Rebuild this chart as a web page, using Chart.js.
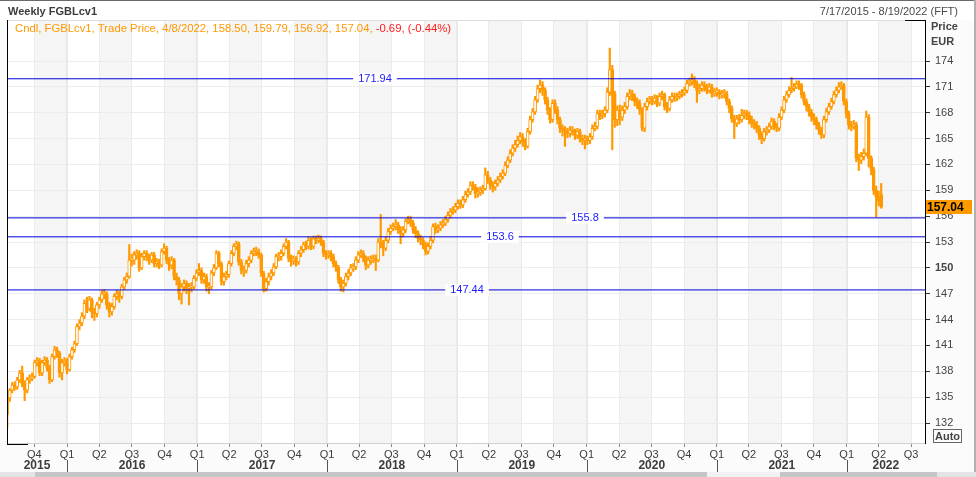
<!DOCTYPE html>
<html>
<head>
<meta charset="utf-8">
<script src="https://cdn.jsdelivr.net/npm/chart.js@4.4.0/dist/chart.umd.min.js"></script>
<style>
html,body{margin:0;padding:0;background:#fff;overflow:hidden}
</style>
</head>
<body>
<canvas id="myChart" width="976" height="477"></canvas>
<script>
// weekly closes, first bar = week of 7/17/2015
const closes = [
134.9,135.8,136.4,136.2,137.0,137.8,136.5,135.8,137.0,137.2,
137.4,139.0,139.2,137.8,139.0,139.3,138.4,137.0,139.7,140.5,
140.1,137.8,139.0,139.2,138.2,139.7,140.5,141.2,143.2,143.6,
144.4,145.9,145.3,146.3,144.9,144.7,145.7,146.3,147.0,147.0,
145.7,144.9,145.5,146.7,147.0,146.7,147.8,148.6,149.0,150.9,
150.9,151.5,151.7,150.0,151.3,151.7,151.3,150.9,151.5,150.5,
150.7,150.3,151.9,152.3,150.9,150.3,150.9,149.0,148.6,147.0,
147.8,148.2,147.6,147.8,147.8,148.8,149.4,149.7,148.6,149.0,
147.8,147.8,149.4,150.0,151.7,150.5,148.4,149.0,149.2,150.5,
151.7,152.5,152.8,150.7,149.7,149.7,150.5,150.9,151.7,151.9,
151.9,151.5,149.4,147.6,148.4,149.0,149.4,150.1,151.3,151.3,
151.7,152.5,153.0,151.1,150.9,150.9,150.7,151.7,152.1,152.7,
152.5,153.2,152.5,153.4,153.2,153.4,153.0,151.7,151.5,151.7,
151.3,150.5,150.1,148.6,147.8,148.2,149.0,149.4,150.0,150.1,
150.9,151.5,151.7,151.1,150.3,150.9,150.9,151.1,150.9,153.0,
152.8,152.3,153.2,154.2,154.6,154.8,155.0,154.4,154.0,154.4,
155.4,155.6,155.2,154.4,154.0,153.4,153.2,152.7,151.9,152.5,
153.2,154.8,154.4,154.6,155.0,155.2,155.6,156.1,156.5,156.7,
157.1,157.5,157.3,157.9,158.5,158.8,159.6,159.4,158.6,158.8,
159.0,159.2,160.8,160.2,159.6,159.4,159.8,160.2,160.6,161.0,
161.9,162.5,163.3,163.9,164.3,164.8,165.2,164.6,164.1,165.8,
167.2,168.1,169.5,170.8,171.2,170.6,169.5,168.3,167.2,169.1,
168.3,167.2,166.2,166.0,165.8,165.6,166.0,165.8,165.4,165.8,
165.0,164.8,165.0,164.8,165.2,166.2,166.4,167.9,167.7,167.9,
168.3,170.4,173.0,170.2,167.2,168.3,167.5,168.3,168.7,169.9,
170.2,169.9,169.3,169.1,168.3,166.2,168.7,169.3,169.5,169.3,
169.7,169.1,169.9,170.1,168.7,168.5,169.5,169.9,169.7,169.9,
170.1,170.3,170.6,171.4,171.6,171.8,171.4,170.6,170.8,171.2,
171.0,170.6,171.0,170.2,170.4,170.4,170.1,170.2,170.2,169.3,
168.5,167.3,166.8,167.3,167.2,167.7,167.9,167.7,167.2,166.8,
166.6,166.2,165.4,165.0,165.8,166.0,166.4,167.0,166.4,166.2,
167.5,168.3,169.5,170.1,170.6,170.8,171.0,171.3,171.2,170.1,
169.3,168.7,168.1,167.5,167.2,166.6,166.0,165.4,167.2,168.1,
168.7,169.3,170.1,170.6,171.0,171.2,169.3,167.9,166.6,166.4,
166.6,162.7,162.5,162.9,163.3,167.5,162.7,161.4,159.0,158.2,
157.73,157.04
];
const highs = [
135.2,136.0,136.7,136.8,137.3,138.1,138.6,136.9,137.3,137.6,
137.8,139.3,139.6,139.5,139.3,139.7,139.6,138.7,140.0,140.9,
140.8,140.3,139.4,139.6,139.5,140.0,140.8,141.5,143.5,144.0,
144.8,146.3,146.6,146.7,146.5,145.3,146.0,146.6,147.4,147.5,
147.2,146.0,145.9,147.0,147.4,147.3,148.1,148.9,149.4,152.7,
151.6,151.9,152.1,152.0,151.7,152.0,152.0,151.6,151.8,151.8,
151.1,151.0,152.2,152.8,152.5,151.2,151.3,151.1,149.4,148.9,
148.2,148.6,148.5,148.2,148.3,149.1,149.8,150.5,150.0,149.4,
149.3,148.3,149.7,150.4,152.0,151.9,150.7,149.4,149.6,150.8,
152.0,152.8,153.1,153.0,151.0,150.2,150.9,151.3,152.0,152.3,
152.4,152.2,151.7,149.6,148.8,149.4,149.8,150.5,151.6,151.8,
152.1,152.8,153.4,153.2,151.5,151.4,151.3,152.0,152.5,153.0,
153.1,153.6,153.5,153.7,153.7,153.8,153.7,153.2,152.0,152.0,
152.0,151.6,150.8,150.3,148.9,148.6,149.4,149.8,150.4,150.5,
151.3,151.9,152.1,152.0,151.4,151.3,151.4,151.5,151.5,153.4,
156.2,153.2,153.6,154.6,155.0,155.2,155.6,155.3,154.8,154.8,
155.7,156.0,156.0,155.5,154.8,154.3,153.8,153.5,153.0,152.9,
153.6,155.1,155.2,155.0,155.4,155.6,156.0,156.5,156.9,157.1,
157.5,157.9,157.9,158.3,158.9,159.2,160.0,160.0,159.7,159.3,
159.4,159.6,161.6,161.2,160.5,160.0,160.2,160.6,161.0,161.4,
162.3,162.9,163.7,164.3,164.8,165.3,165.7,165.6,165.0,166.2,
167.6,168.5,169.9,171.2,171.8,171.6,170.9,169.8,168.6,169.5,
169.5,168.7,167.5,166.6,166.4,166.2,166.4,166.4,166.1,166.2,
166.1,165.4,165.4,165.3,165.6,166.6,166.9,168.3,168.3,168.3,
168.7,170.9,175.5,173.5,170.5,168.8,168.9,168.8,169.2,170.3,
170.7,170.6,170.2,169.7,169.5,168.6,169.1,169.7,169.9,169.9,
170.1,170.0,170.3,170.5,170.3,169.2,169.9,170.3,170.3,170.3,
170.5,170.7,171.0,171.8,172.0,172.5,172.2,171.7,171.3,171.6,
171.6,171.3,171.4,171.3,170.8,170.9,170.7,170.6,170.7,170.5,
169.6,168.8,167.7,167.7,167.8,168.4,168.3,168.3,168.1,167.6,
167.2,167.0,166.5,165.8,166.2,166.4,166.8,167.4,167.3,166.8,
167.9,168.7,169.9,170.5,171.0,172.1,171.4,171.7,171.7,171.4,
170.4,169.6,169.0,168.4,167.9,167.5,166.9,166.3,167.6,168.5,
169.1,169.7,170.5,171.0,171.5,171.6,171.4,169.6,168.2,167.0,
167.1,166.9,163.2,163.4,163.8,168.2,167.8,163.0,161.7,159.5,
158.9,159.79
];
const lows = [
131.4,134.5,135.5,135.8,135.9,136.7,136.2,134.6,135.5,136.6,
136.9,137.2,138.6,137.5,137.5,138.7,138.0,136.6,136.8,139.4,
139.6,137.3,137.0,138.6,137.7,138.0,139.4,140.2,141.0,142.8,
143.3,144.1,144.8,145.0,144.2,143.9,144.3,145.3,146.0,146.4,
145.2,144.3,144.5,145.2,146.3,146.0,146.4,147.5,148.2,148.8,
150.2,150.4,151.0,149.6,149.8,150.9,150.8,150.4,150.6,150.1,
150.1,149.9,150.1,151.6,150.5,149.7,149.9,148.6,148.0,146.3,
145.8,147.3,147.0,145.7,147.2,147.5,148.5,149.1,148.2,148.2,
147.3,147.0,147.5,149.1,149.8,150.1,148.0,148.0,148.6,148.9,
150.2,151.4,152.1,150.3,149.3,149.0,149.4,150.1,150.6,151.4,
151.4,151.1,149.0,147.2,147.3,148.0,148.6,149.1,149.9,150.8,
150.9,151.4,152.2,150.7,150.2,150.4,150.2,150.4,151.3,151.8,
152.1,152.2,152.1,152.2,152.8,152.9,152.6,151.3,151.0,151.1,
150.8,150.1,149.6,148.2,147.3,147.2,147.9,148.6,149.1,149.6,
149.8,150.6,151.2,150.7,149.8,150.0,150.4,150.6,149.7,150.7,
152.3,151.4,152.0,152.9,153.9,154.3,154.4,154.0,152.8,153.6,
154.1,155.1,154.8,154.0,153.5,153.0,152.7,152.2,151.5,151.6,
152.2,152.9,154.0,154.1,154.3,154.7,154.9,155.3,155.8,156.2,
156.4,156.8,156.9,157.0,157.6,158.2,158.5,159.0,158.1,158.2,
158.4,158.6,159.0,159.8,159.1,158.8,159.0,159.5,159.9,160.3,
160.7,161.6,162.2,163.0,163.5,164.0,164.4,164.1,163.7,163.9,
165.5,166.9,167.8,169.2,170.3,170.0,169.0,167.8,166.8,166.9,
167.9,166.7,165.7,165.3,164.1,165.1,165.2,165.4,164.9,165.0,
164.6,164.3,163.8,164.3,164.4,164.9,165.9,166.1,167.2,167.3,
167.5,168.0,170.0,163.7,166.3,166.5,166.6,167.1,167.9,168.4,
169.5,169.4,168.8,168.5,167.8,165.9,165.8,168.3,169.0,168.9,
169.0,168.7,168.8,169.5,168.3,168.0,168.2,169.2,169.3,169.4,
169.6,169.8,170.0,170.3,171.1,171.2,170.9,169.2,170.2,170.5,
170.5,170.2,170.3,169.8,169.9,169.9,169.6,169.7,169.7,168.9,
168.0,166.9,165.0,166.4,166.7,166.9,167.3,167.2,166.7,166.3,
166.1,165.7,164.9,164.4,164.7,165.4,165.7,166.1,166.0,165.8,
165.9,167.2,168.0,169.2,169.8,170.3,170.5,170.8,170.7,169.7,
168.9,168.2,167.6,167.0,166.6,166.1,165.5,165.0,165.1,166.9,
167.8,168.4,169.0,169.8,170.3,170.7,168.9,167.4,166.1,165.9,
166.1,162.3,161.3,162.1,162.5,163.0,161.7,160.8,158.5,155.9,
157.2,156.92
];
const firstOpen = 133.0;
// last bar as printed in the legend: date, open, high, low, close, change, change %
const lastBar = ["4/8/2022", 158.50, 159.79, 156.92, 157.04];
const lastChange = [-0.69, -0.44];

const levels = [171.94, 155.8, 153.6, 147.44];
const levelLabels = ["171.94", "155.8", "153.6", "147.44"];
const yTicks = [132,135,138,141,144,147,150,153,156,159,162,165,168,171,174];
const years = [2015,2016,2017,2018,2019,2020,2021,2022];

const FONT = '"Liberation Sans", Arial, sans-serif';
const orange = "#ff9900";
const lineBlue = "#0000dd";

const startMs = Date.UTC(2015, 6, 17);
function weekOf(y, m, d) { return (Date.UTC(y, m, d || 1) - startMs) / (7 * 864e5); }

const xMin = -0.1, xMax = 368.6;

// opens = previous close, last one from the legend
const opens = closes.map((c, i) => i === 0 ? firstOpen : closes[i - 1]);
opens[opens.length - 1] = lastBar[1];

// quarter ticks
const qTicks = [], qLabels = [];
for (let y = 2015; y <= 2022; y++) {
    for (let q = 0; q < 4; q++) {
        const w = weekOf(y, q * 3);
        if (w > xMin && w < xMax) { qTicks.push(w); qLabels.push("Q" + (q + 1)); }
    }
}

const wickData = closes.map((c, i) => ({x: i, y: [lows[i], highs[i]]}));
const bodyData = closes.map((c, i) => ({x: i, y: [opens[i], c]}));
const bodyFill = closes.map((c, i) => c >= opens[i] ? "#ffffff" : orange);

const levelSets = levels.map(v => ({
    type: "line",
    data: [{x: xMin, y: v}, {x: xMax, y: v}],
    borderColor: lineBlue,
    borderWidth: 1,
    pointRadius: 0,
    order: 0
}));

const levelLabelX = [375, 585, 500, 467];

const decor = {
    id: "decor",
    beforeDraw(chart) {
        const {ctx, chartArea: a, scales: {x}} = chart;
        ctx.save();
        ctx.fillStyle = "#fbfbfb";
        ctx.fillRect(0, 0, chart.width, chart.height);
        ctx.fillStyle = "#ffffff";
        ctx.fillRect(0, 0, chart.width, a.top);
        ctx.fillRect(a.left, a.top, a.right - a.left, a.bottom - a.top);
        // shaded Q2 / Q4
        ctx.fillStyle = "#f5f5f5";
        for (let y = 2015; y <= 2022; y++) {
            [[3, 6], [9, 12]].forEach(([m0, m1]) => {
                const x0 = Math.max(a.left, x.getPixelForValue(weekOf(y, m0)));
                const x1 = Math.min(a.right, x.getPixelForValue(m1 === 12 ? weekOf(y + 1, 0) : weekOf(y, m1)));
                if (x1 > x0) ctx.fillRect(x0, a.top, x1 - x0, a.bottom - a.top);
            });
        }
        // year boundaries
        ctx.fillStyle = "#e6e6e6";
        for (let y = 2016; y <= 2022; y++) {
            const px = Math.round(x.getPixelForValue(weekOf(y, 0)));
            ctx.fillRect(px - 1, a.top, 2, a.bottom - a.top);
        }
        ctx.restore();
    },
    afterDatasetsDraw(chart) {
        const {ctx, scales: {y}} = chart;
        ctx.save();
        ctx.font = "11px " + FONT;
        ctx.textBaseline = "middle";
        ctx.textAlign = "center";
        levels.forEach((v, i) => {
            const py = y.getPixelForValue(v);
            const w = ctx.measureText(levelLabels[i]).width;
            ctx.fillStyle = "#ffffff";
            ctx.fillRect(levelLabelX[i] - w / 2 - 5, py - 6, w + 10, 12);
            ctx.fillStyle = "#1c1cff";
            ctx.fillText(levelLabels[i], levelLabelX[i], py + 0.5);
        });
        ctx.restore();
    },
    afterDraw(chart) {
        const {ctx, chartArea: a, scales: {x, y}} = chart;
        ctx.save();
        // frame pieces
        ctx.fillStyle = "#000";
        ctx.fillRect(a.left, a.top, 1, a.bottom - a.top + 2);
        ctx.fillRect(a.left, a.bottom + 1, 21, 1);
        ctx.fillRect(a.right - 20, a.top, 20, 1);
        ctx.fillStyle = "#dddddd";
        ctx.fillRect(a.left + 1, a.top, a.right - a.left - 21, 1);
        // window edges
        ctx.fillStyle = "#6a6a6a";
        ctx.fillRect(0, 0, chart.width, 1);
        ctx.fillStyle = "#b0b0b0";
        ctx.fillRect(chart.width - 2, 0, 2, chart.height);

        // header
        ctx.textBaseline = "middle";
        ctx.fillStyle = "#3c3c3c";
        ctx.font = "bold 11px " + FONT;
        ctx.textAlign = "left";
        ctx.fillText("Weekly FGBLcv1", 8, 12);
        ctx.font = "11px " + FONT;
        ctx.textAlign = "right";
        ctx.fillStyle = "#4a4a4a";
        ctx.fillText("7/17/2015 - 8/19/2022 (FFT)", 958, 12);

        // legend line
        ctx.textAlign = "left";
        ctx.font = "11.3px " + FONT;
        const part1 = "Cndl, FGBLcv1, Trade Price, " + lastBar[0] + ", " +
            lastBar.slice(1).map(v => v.toFixed(2)).join(", ") + ", ";
        const part2 = lastChange[0].toFixed(2) + ", (" + lastChange[1].toFixed(2) + "%)";
        ctx.fillStyle = orange;
        ctx.fillText(part1, 15, 29);
        ctx.fillStyle = "#ff1a1a";
        ctx.fillText(part2, 15 + ctx.measureText(part1).width, 29);

        // Price / EUR
        ctx.fillStyle = "#444";
        ctx.font = "bold 11px " + FONT;
        ctx.fillText("Price", 931, 27);
        ctx.fillText("EUR", 931, 42);

        // last price box
        const last = closes[closes.length - 1];
        const py = y.getPixelForValue(last);
        ctx.fillStyle = orange;
        ctx.fillRect(926, Math.round(py) - 7, 46, 14);
        ctx.fillStyle = "#000";
        ctx.font = "bold 12px " + FONT;
        ctx.fillText(last.toFixed(2), 927, py + 0.5);

        // Auto box
        ctx.strokeStyle = "#666";
        ctx.lineWidth = 1;
        ctx.strokeRect(933.5, 429.5, 28, 13);
        ctx.fillStyle = "#444";
        ctx.font = "bold 11px " + FONT;
        ctx.fillText("Auto", 935, 436.5);

        // year row
        ctx.textAlign = "center";
        ctx.font = "bold 12px " + FONT;
        years.forEach(yr => {
            const w0 = Math.max(xMin, weekOf(yr, 0));
            const w1 = Math.min(xMax, weekOf(yr + 1, 0));
            const cx = (x.getPixelForValue(w0) + x.getPixelForValue(w1)) / 2;
            ctx.fillStyle = "#3c3c3c";
            ctx.fillText(String(yr), cx, 466);
            if (yr > 2015) {
                ctx.fillStyle = "#555";
                ctx.fillRect(Math.round(x.getPixelForValue(weekOf(yr, 0))), 460, 1, 12);
            }
        });

        // scrollbar strip
        ctx.fillStyle = "#e4e4e4";
        ctx.fillRect(0, 472, chart.width, 5);
        ctx.fillStyle = "#c6c6c6";
        ctx.fillRect(35, 472, 902, 5);
        ctx.fillStyle = "#f2f2f2";
        ctx.fillRect(707, 472, 73, 5);
        ctx.restore();
    }
};

const ctx = document.getElementById("myChart").getContext("2d");
const myChart = new Chart(ctx, {
    type: "bar",
    data: {
        datasets: [
            {
                data: wickData,
                backgroundColor: orange,
                barThickness: 1.5,
                grouped: false,
                order: 2
            },
            {
                data: bodyData,
                backgroundColor: bodyFill,
                borderColor: orange,
                borderWidth: 1,
                borderSkipped: false,
                barThickness: 3,
                minBarLength: 1,
                grouped: false,
                order: 1
            },
            ...levelSets
        ]
    },
    options: {
        responsive: false,
        animation: false,
        devicePixelRatio: 1,
        layout: {padding: {left: 7, top: 20, right: 0, bottom: 0}},
        plugins: {
            legend: {display: false},
            tooltip: {enabled: false}
        },
        scales: {
            x: {
                type: "linear",
                min: xMin,
                max: xMax,
                offset: false,
                grid: {offset: false, color: "#ececec", tickColor: "#8a8a8a", tickLength: 4},
                border: {color: "#d0d0d0"},
                afterBuildTicks: a => { a.ticks = qTicks.map(v => ({value: v})); },
                afterFit: a => { a.height = 34; },
                ticks: {
                    autoSkip: false,
                    maxRotation: 0,
                    padding: 1,
                    color: "#3c3c3c",
                    font: {family: FONT, size: 11},
                    callback: (v, i) => qLabels[i]
                }
            },
            y: {
                position: "right",
                min: 129.68,
                max: 178.76,
                grid: {color: "#ececec", tickColor: "#333", tickLength: 5},
                border: {color: "#000"},
                afterBuildTicks: a => { a.ticks = yTicks.map(v => ({value: v})); },
                afterFit: a => { a.width = 51; },
                ticks: {
                    padding: 5,
                    color: "#444",
                    font: c => ({family: FONT, size: 11, weight: (c.tick && c.tick.value === 150) ? "bold" : "normal"}),
                    callback: v => String(v)
                }
            }
        }
    },
    plugins: [decor]
});
</script>
</body>
</html>
